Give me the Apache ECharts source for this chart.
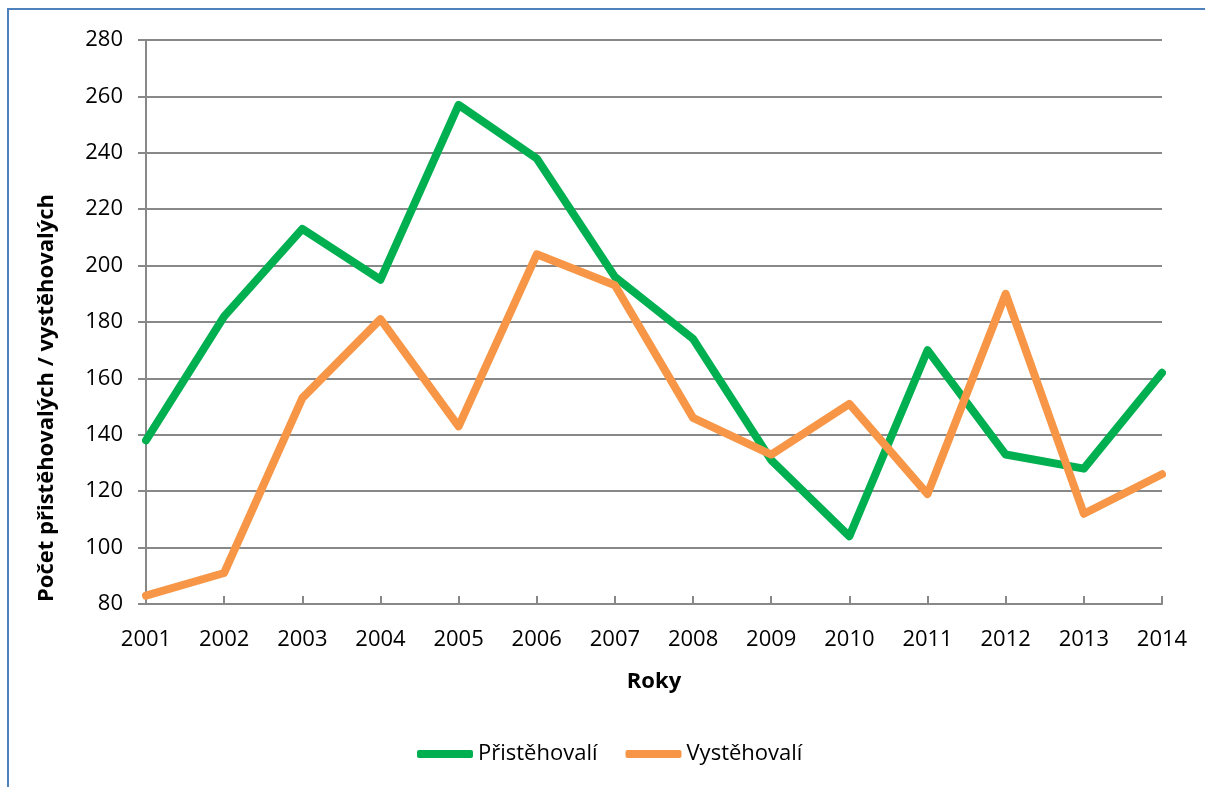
<!DOCTYPE html>
<html>
<head>
<meta charset="utf-8">
<script src="https://cdn.jsdelivr.net/npm/echarts@6/dist/echarts.min.js"></script>
<style>html,body{margin:0;padding:0;background:#fff;}#c{width:1205px;height:787px;}</style>
</head>
<body>
<div id="c"></div>
<script>
const years = ['2001','2002','2003','2004','2005','2006','2007','2008','2009','2010','2011','2012','2013','2014'];
const pristehovali = [138,182,213,195,257,238,196,174,131,104,170,133,128,162];
const vystehovali = [83,91,153,181,143,204,193,146,133,151,119,190,112,126];
const yTicks = {min:80, max:280, interval:20};

const FONT = '"Open Sans", "Noto Sans", sans-serif';
const chart = echarts.init(document.getElementById('c'), null, {renderer:'canvas'});
chart.setOption({
  animation:false,
  backgroundColor:'#fff',
  textStyle:{fontFamily:FONT},
  grid:{left:146, right:43, top:40, bottom:183, containLabel:false},
  legend:{
    top:738, left:412,
    itemWidth:56, itemHeight:8, itemGap:28,
    icon:'roundRect',
    textStyle:{fontFamily:FONT, fontSize:22, color:'#000'},
    data:['Přistěhovalí','Vystěhovalí']
  },
  xAxis:{
    type:'category', data:years, boundaryGap:false,
    name:'Roky', nameLocation:'middle', nameGap:67,
    nameTextStyle:{fontFamily:FONT, fontSize:22, fontWeight:'bold', color:'#000'},
    axisLine:{show:true, lineStyle:{color:'#888', width:2}},
    axisTick:{show:true, inside:true, length:8, lineStyle:{color:'#888', width:2}},
    axisLabel:{fontFamily:FONT, fontSize:22, color:'#000', margin:25},
    splitLine:{show:false}
  },
  yAxis:{
    type:'value', min:yTicks.min, max:yTicks.max, interval:yTicks.interval,
    axisLine:{show:true, lineStyle:{color:'#888', width:2}},
    axisTick:{show:true, length:8, lineStyle:{color:'#888', width:2}},
    axisLabel:{fontFamily:FONT, fontSize:22, color:'#000', margin:23},
    splitLine:{show:true, lineStyle:{color:'#888', width:2}}
  },
  graphic:[
    {type:'rect', shape:{x:8, y:9, width:1400, height:900}, style:{fill:null, stroke:'#4F81BD', lineWidth:2}, silent:true, z:-1},
    {type:'text', x:47, y:398, rotation:Math.PI/2, style:{text:'Počet přistěhovalých / vystěhovalých', font:'bold 22px "Open Sans", sans-serif', fill:'#000', align:'center', verticalAlign:'middle'}}
  ],
  series:[
    {name:'Přistěhovalí', type:'line', data:pristehovali, symbol:'none', smooth:false,
     lineStyle:{color:'#00B050', width:8, cap:'round', join:'round'}, itemStyle:{color:'#00B050'}, z:3},
    {name:'Vystěhovalí', type:'line', data:vystehovali, symbol:'none', smooth:false,
     lineStyle:{color:'#F79646', width:8, cap:'round', join:'round'}, itemStyle:{color:'#F79646'}, z:4}
  ]
});
</script>
</body>
</html>
